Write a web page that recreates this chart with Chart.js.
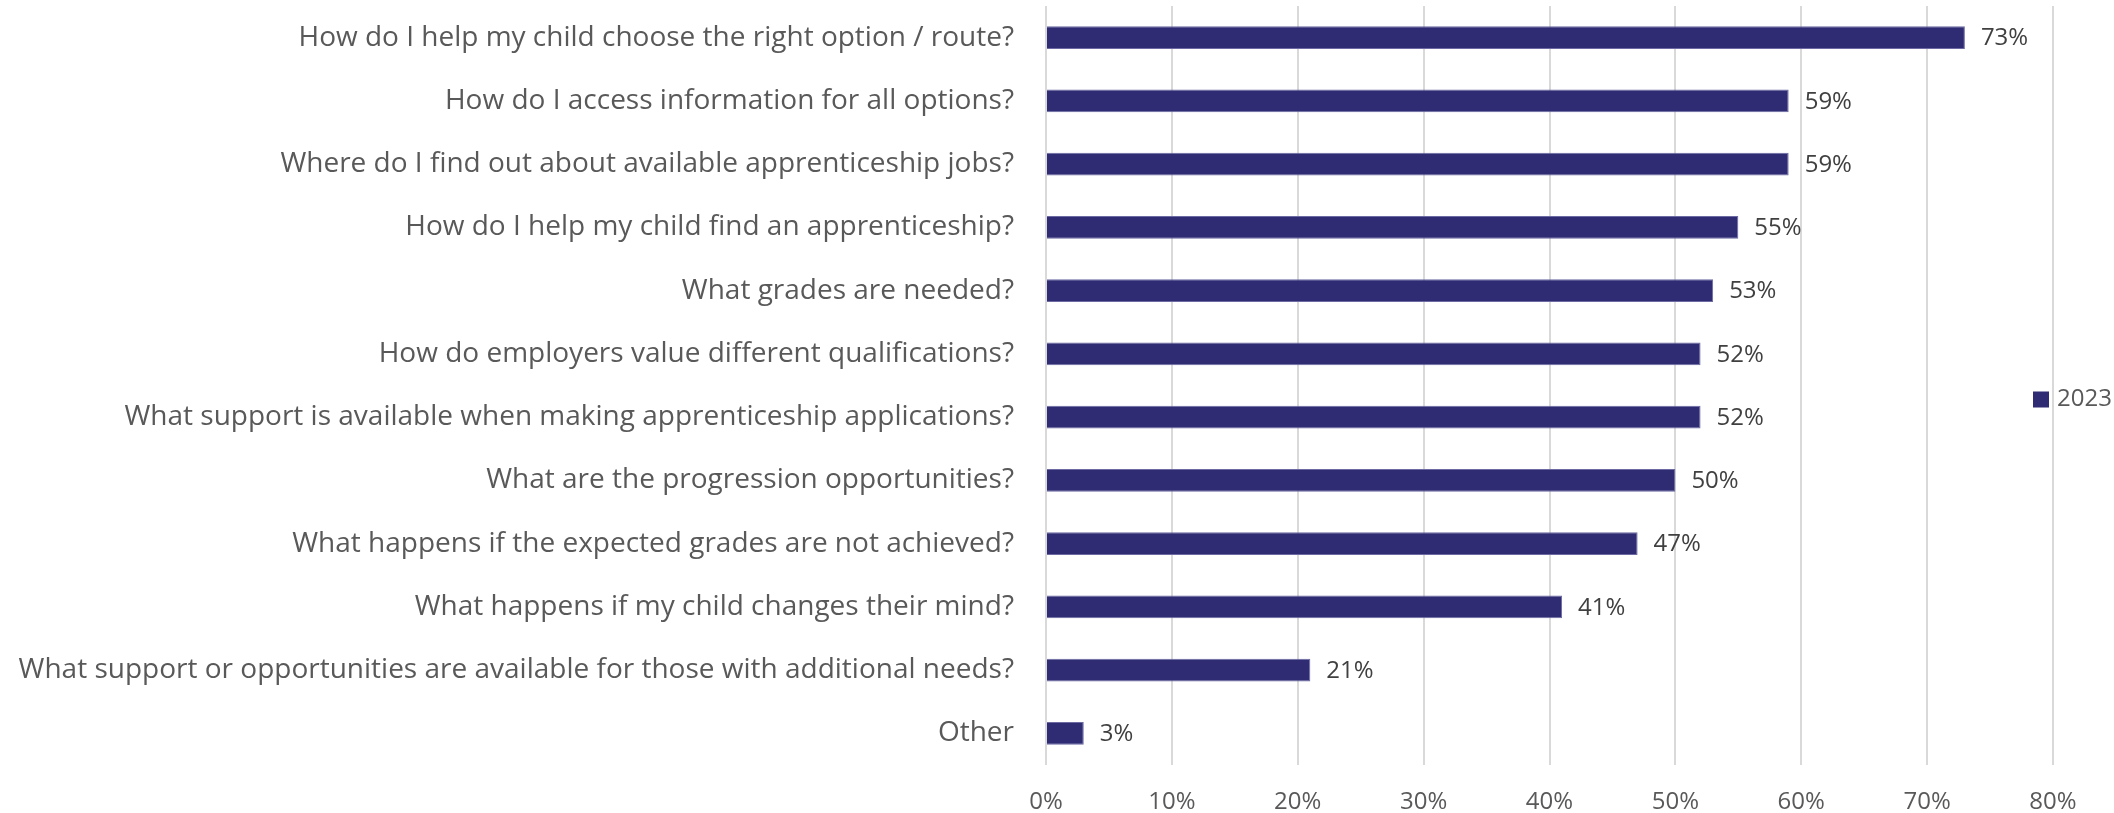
<!DOCTYPE html>
<html>
<head>
<meta charset="utf-8">
<script src="https://cdn.jsdelivr.net/npm/chart.js@4/dist/chart.umd.min.js"></script>
<style>
    html, body { margin: 0; padding: 0; background: #fff; }
    #wrap { width: 2114px; height: 813px; }
</style>
</head>
<body>
<div id="wrap"><canvas id="surveyChart" width="2114" height="813"></canvas></div>
<script>
// Questions parents asked (top to bottom as in the chart)
const questions = [
    'How do I help my child choose the right option / route?',
    'How do I access information for all options?',
    'Where do I find out about available apprenticeship jobs?',
    'How do I help my child find an apprenticeship?',
    'What grades are needed?',
    'How do employers value different qualifications?',
    'What support is available when making apprenticeship applications?',
    'What are the progression opportunities?',
    'What happens if the expected grades are not achieved?',
    'What happens if my child changes their mind?',
    'What support or opportunities are available for those with additional needs?',
    'Other'
];
// Share of respondents, 2023 (fractions)
const values2023 = [0.73, 0.59, 0.59, 0.55, 0.53, 0.52, 0.52, 0.50, 0.47, 0.41, 0.21, 0.03];
const seriesLabel = '2023';
const xTicks = [0, 0.1, 0.2, 0.3, 0.4, 0.5, 0.6, 0.7, 0.8];

const barColor = '#2F2C74';
const textColor = '#595959';
const fontFamily = '"Open Sans", Lato, sans-serif';

// Draw the % value to the right of each bar
const valueLabels = {
    id: 'valueLabels',
    afterDatasetsDraw(chart) {
        const ctx = chart.ctx;
        ctx.save();
        ctx.font = '24px ' + fontFamily;
        ctx.fillStyle = '#404040';
        ctx.textAlign = 'left';
        ctx.textBaseline = 'middle';
        chart.getDatasetMeta(0).data.forEach((bar, i) => {
            const v = chart.data.datasets[0].data[i];
            ctx.fillText(Math.round(v * 100) + '%', bar.x + 16, bar.y + 1);
        });
        ctx.restore();
    }
};

// Legend sits over the right edge, like the original
const sideLegend = {
    id: 'sideLegend',
    afterDraw(chart) {
        const ctx = chart.ctx;
        const ds = chart.data.datasets[0];
        const area = chart.chartArea;
        const cy = (area.top + area.bottom) / 2 + 14;
        ctx.save();
        ctx.fillStyle = ds.backgroundColor;
        ctx.fillRect(area.right - 20, cy - 8, 16, 16);
        ctx.font = '24px ' + fontFamily;
        ctx.fillStyle = textColor;
        ctx.textAlign = 'left';
        ctx.textBaseline = 'middle';
        ctx.fillText(ds.label, area.right + 4, cy);
        ctx.restore();
    }
};

const ctx = document.getElementById('surveyChart').getContext('2d');
const surveyChart = new Chart(ctx, {
    type: 'bar',
    data: {
        labels: questions,
        datasets: [
            {
                label: seriesLabel,
                data: values2023,
                backgroundColor: barColor,
                borderColor: '#6C69A3',
                borderWidth: 1,
                categoryPercentage: 1,
                barPercentage: 0.36,
            },
        ],
    },
    options: {
        indexAxis: 'y',
        responsive: false,
        animation: false,
        layout: {
            padding: { top: 6, right: 61, bottom: 0, left: 0 },
        },
        plugins: {
            legend: { display: false },
            tooltip: { enabled: false },
        },
        scales: {
            x: {
                min: 0,
                max: 0.8,
                afterBuildTicks: (scale) => {
                    scale.ticks = xTicks.map(v => ({ value: v }));
                },
                afterFit: (scale) => {
                    scale.height = 48;
                },
                grid: {
                    color: '#D9D9D9',
                    lineWidth: 2,
                    drawTicks: false,
                },
                border: { display: false },
                ticks: {
                    padding: 23,
                    maxRotation: 0,
                    color: textColor,
                    font: { family: fontFamily, size: 24 },
                    callback: (v) => Math.round(v * 100) + '%',
                },
            },
            y: {
                grid: { display: false, drawTicks: false },
                border: { display: false },
                afterFit: (scale) => {
                    scale.width = 1046; // keep plot starting where the original does
                    scale.paddingTop = 0;
                    scale.paddingBottom = 0;
                },
                ticks: {
                    padding: 32,
                    color: textColor,
                    font: { family: fontFamily, size: 28 },
                },
            },
        },
    },
    plugins: [valueLabels, sideLegend],
});
</script>
</body>
</html>
